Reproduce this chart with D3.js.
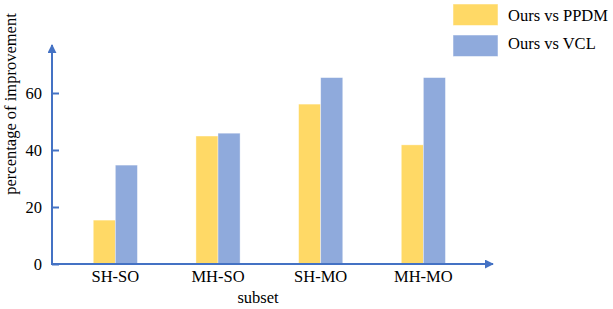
<!DOCTYPE html>
<html>
<head>
<meta charset="utf-8">
<script src="https://cdn.jsdelivr.net/npm/d3@7"></script>
<style>
  body { margin: 0; background: #fff; }
  text { font-family: "Liberation Serif", "DejaVu Serif", serif; fill: #000; }
</style>
</head>
<body>
<div id="chart"></div>
<script>
// data
const subsets = ["SH-SO", "MH-SO", "SH-MO", "MH-MO"];
const seriesNames = ["Ours vs PPDM", "Ours vs VCL"];
const vsPPDM = [15.4, 44.9, 56.1, 41.8];
const vsVCL = [34.7, 45.9, 65.4, 65.4];
const yTicks = [0, 20, 40, 60];

const colors = ["#FFD966", "#8FAADC"];
const axisColor = "#4472C4";

const width = 613, height = 309;
const plot = { left: 52, right: 493, bottom: 264, top: 45 };

const rows = subsets.map((s, i) => ({ name: s, values: [vsPPDM[i], vsVCL[i]] }));

const svg = d3.select("#chart").append("svg")
  .attr("width", width)
  .attr("height", height);

const y = d3.scaleLinear()
  .domain([0, 77])
  .range([plot.bottom, plot.bottom - 77 * 2.85]);

const x = d3.scaleBand()
  .domain(subsets)
  .range([64, 474.7])
  .paddingInner(0.57)
  .paddingOuter(0.285);

const x1 = d3.scaleBand()
  .domain(seriesNames)
  .range([0, x.bandwidth()]);

// bars
const groups = svg.append("g").selectAll("g")
  .data(rows)
  .enter().append("g")
  .attr("transform", d => `translate(${x(d.name)},0)`);

groups.selectAll("rect")
  .data(d => d.values.map((v, k) => ({ key: seriesNames[k], v: v, k: k })))
  .enter().append("rect")
  .attr("x", d => x1(d.key))
  .attr("y", d => y(d.v))
  .attr("width", x1.bandwidth())
  .attr("height", d => plot.bottom - y(d.v))
  .style("fill", d => colors[d.k])
  .style("stroke", "#fff")
  .style("stroke-opacity", 0.5)
  .style("stroke-width", 0.75);

// y axis
const yAxis = svg.append("g")
  .attr("transform", `translate(${plot.left},0)`)
  .call(d3.axisLeft(y).tickValues(yTicks).tickSize(-7).tickPadding(10));
yAxis.select(".domain").remove();
yAxis.selectAll("line").attr("stroke", axisColor).attr("stroke-width", 2);
yAxis.selectAll("text").style("font-size", "16.5px").attr("font-family", null);

// x axis
const xAxis = svg.append("g")
  .attr("transform", `translate(0,${plot.bottom})`)
  .call(d3.axisBottom(x).tickSize(0).tickPadding(6.5));
xAxis.select(".domain").remove();
xAxis.selectAll("text").style("font-size", "16.5px").attr("font-family", null);

// axis lines with arrows
svg.append("defs").append("marker")
  .attr("id", "arrow")
  .attr("viewBox", "0 0 10 10")
  .attr("refX", 9).attr("refY", 5)
  .attr("markerWidth", 4.5).attr("markerHeight", 4.5)
  .attr("orient", "auto")
  .append("path")
  .attr("d", "M0,0L10,5L0,10z")
  .attr("fill", axisColor);

svg.append("line")
  .attr("x1", plot.left).attr("y1", plot.bottom + 1)
  .attr("x2", plot.left).attr("y2", plot.top)
  .attr("stroke", axisColor).attr("stroke-width", 2)
  .attr("marker-end", "url(#arrow)");

svg.append("line")
  .attr("x1", plot.left - 1).attr("y1", plot.bottom)
  .attr("x2", plot.right).attr("y2", plot.bottom)
  .attr("stroke", axisColor).attr("stroke-width", 2)
  .attr("marker-end", "url(#arrow)");

// axis titles
svg.append("text")
  .attr("x", 258).attr("y", 303)
  .attr("text-anchor", "middle")
  .style("font-size", "16.5px")
  .text("subset");

svg.append("text")
  .attr("transform", "translate(16,104) rotate(-90)")
  .attr("text-anchor", "middle")
  .style("font-size", "16.5px")
  .text("percentage of improvement");

// legend
const legend = svg.append("g").selectAll("g")
  .data(seriesNames)
  .enter().append("g")
  .attr("transform", (d, i) => `translate(453,${4 + i * 31})`);

legend.append("rect")
  .attr("width", 45).attr("height", 21.5)
  .style("fill", (d, i) => colors[i])
  .style("stroke", "#fff")
  .style("stroke-opacity", 0.5);

legend.append("text")
  .attr("x", 55).attr("y", (d, i) => 16.5 - i * 2.5)
  .style("font-size", "16.5px")
  .text(d => d);
</script>
</body>
</html>
